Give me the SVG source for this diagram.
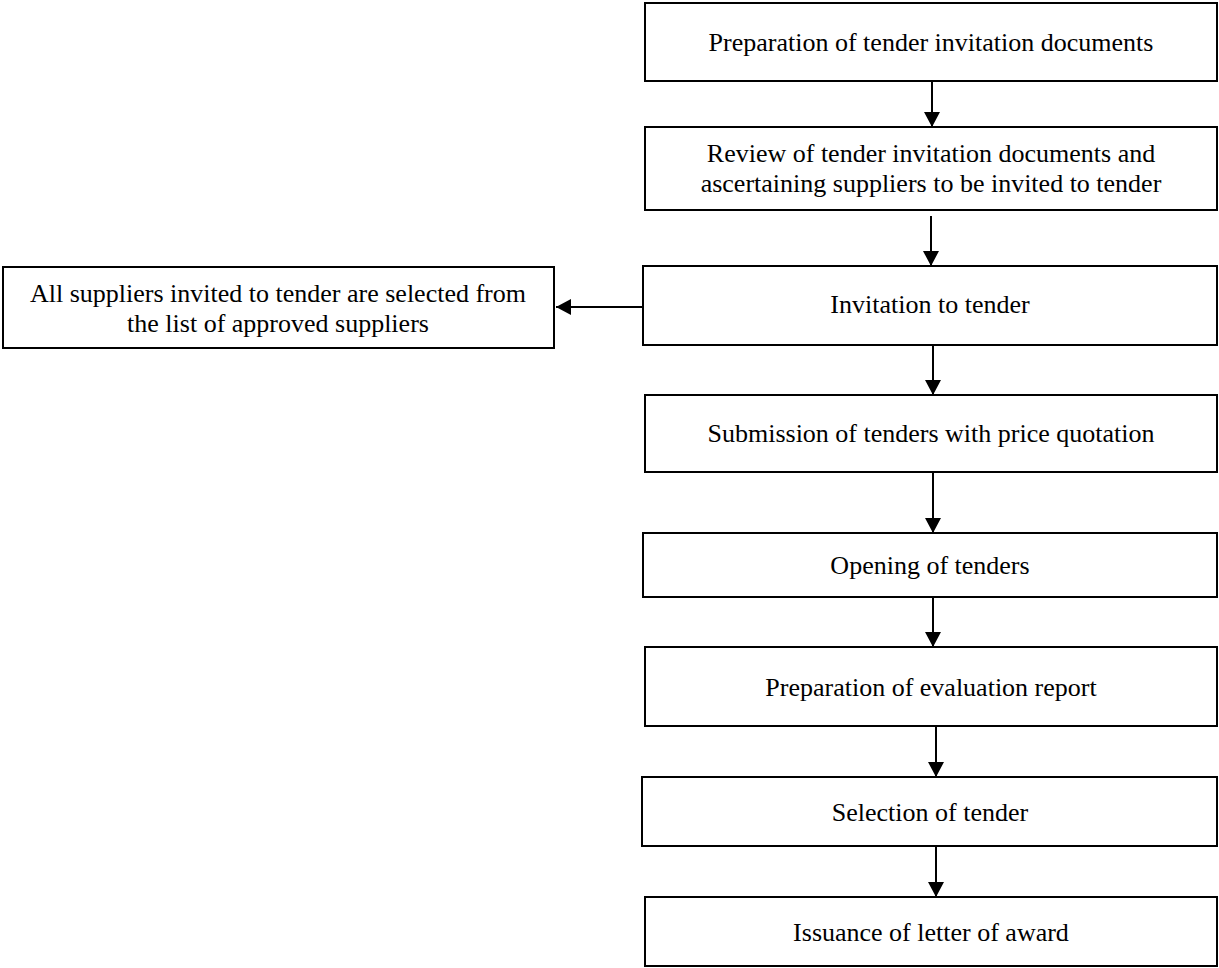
<svg xmlns="http://www.w3.org/2000/svg" width="1219" height="968" viewBox="0 0 1219 968">
<style>
.box{fill:#fff;stroke:#000;stroke-width:2}
.t{font-family:"Liberation Serif","Times New Roman",serif;font-size:26px;fill:#000;text-anchor:middle}
.c{stroke:#000;stroke-width:2;fill:none}
</style>
<defs>
<marker id="ah" markerUnits="userSpaceOnUse" markerWidth="16" markerHeight="16" viewBox="0 0 15 16" refX="15" refY="8" orient="auto">
<path d="M0,0 L15,8 L0,16 Z" fill="#000"/>
</marker>
</defs>
<rect width="1219" height="968" fill="#fff"/>
<g id="connectors">
<line class="c" x1="932" y1="82" x2="932" y2="127" marker-end="url(#ah)"/>
<line class="c" x1="931" y1="216" x2="931" y2="266" marker-end="url(#ah)"/>
<line class="c" x1="933" y1="346" x2="933" y2="395" marker-end="url(#ah)"/>
<line class="c" x1="933" y1="473" x2="933" y2="533" marker-end="url(#ah)"/>
<line class="c" x1="933" y1="598" x2="933" y2="647" marker-end="url(#ah)"/>
<line class="c" x1="936" y1="727" x2="936" y2="777" marker-end="url(#ah)"/>
<line class="c" x1="936" y1="847" x2="936" y2="897" marker-end="url(#ah)"/>
<line class="c" x1="643" y1="307" x2="556" y2="307" marker-end="url(#ah)"/>
</g>
<g id="n1"><rect class="box" x="645" y="3" width="572" height="78"/><text class="t" x="931" y="51">Preparation of tender invitation documents</text></g>
<g id="n2"><rect class="box" x="645" y="127" width="572" height="83"/><text class="t" x="931" y="162">Review of tender invitation documents and</text><text class="t" x="931" y="192">ascertaining suppliers to be invited to tender</text></g>
<g id="n3"><rect class="box" x="643" y="266" width="574" height="79"/><text class="t" x="930" y="313">Invitation to tender</text></g>
<g id="n4"><rect class="box" x="645" y="395" width="572" height="77"/><text class="t" x="931" y="442">Submission of tenders with price quotation</text></g>
<g id="n5"><rect class="box" x="643" y="533" width="574" height="64"/><text class="t" x="930" y="574">Opening of tenders</text></g>
<g id="n6"><rect class="box" x="645" y="647" width="572" height="79"/><text class="t" x="931" y="696">Preparation of evaluation report</text></g>
<g id="n7"><rect class="box" x="642" y="777" width="575" height="69"/><text class="t" x="930" y="821">Selection of tender</text></g>
<g id="n8"><rect class="box" x="645" y="897" width="572" height="69"/><text class="t" x="931" y="941">Issuance of letter of award</text></g>
<g id="n9"><rect class="box" x="3" y="267" width="551" height="81"/><text class="t" x="278" y="302">All suppliers invited to tender are selected from</text><text class="t" x="278" y="332">the list of approved suppliers</text></g>
</svg>
